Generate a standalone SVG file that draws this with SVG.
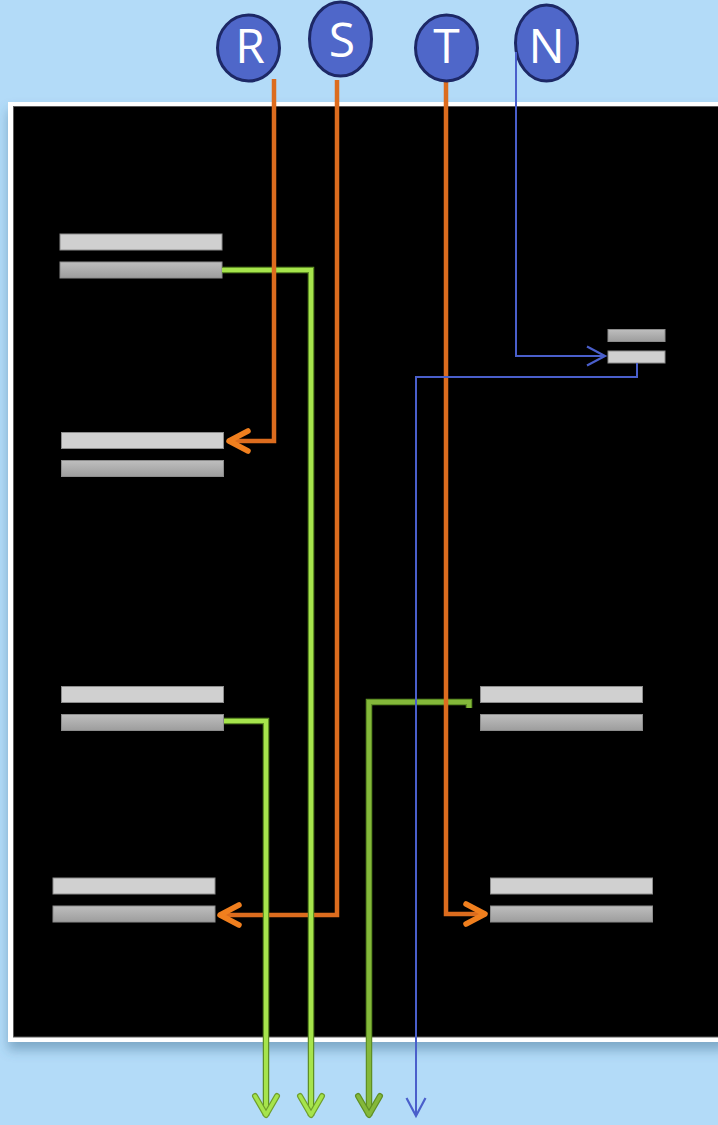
<svg xmlns="http://www.w3.org/2000/svg" width="718" height="1125" viewBox="0 0 718 1125">
  <style>
    .bar-light { fill: #d0d0d0; stroke: #8c8c8c; stroke-width: 1; }
    .bar-dark { fill: url(#barDark); stroke: #8c8c8c; stroke-width: 1; }
    .badge { fill: #4f67c9; stroke: #1d2866; stroke-width: 3; }
    .badge-text { font-family: "Open Sans", "Liberation Sans", sans-serif; font-size: 48px; fill: #ffffff; text-anchor: middle; }
    .orange { fill: none; stroke: #dc6c1e; stroke-width: 4.5; stroke-linejoin: miter; }
    .green-edge { fill: none; stroke: #5f8f24; stroke-width: 6.5; }
    .green { fill: none; stroke: #a6e44c; stroke-width: 4; }
    .green-dark { fill: none; stroke: #84b83a; stroke-width: 4; }
    .blue { fill: none; stroke: #4a5fcb; stroke-width: 2; }
  </style>
  <defs>
    <linearGradient id="barDark" x1="0" y1="0" x2="0" y2="1">
      <stop offset="0" stop-color="#bebebe"/>
      <stop offset="1" stop-color="#9d9d9d"/>
    </linearGradient>
    <filter id="frameShadow" x="-5%" y="-5%" width="110%" height="110%">
      <feDropShadow dx="0" dy="8" stdDeviation="6" flood-color="#3a6a8c" flood-opacity="0.45"/>
    </filter>
    <marker id="arrowOrange" markerUnits="userSpaceOnUse" orient="auto" markerWidth="30" markerHeight="30" refX="0" refY="0" viewBox="-25 -15 30 30" overflow="visible">
      <path d="M-20,-10 L-1,0 L-20,10" fill="none" stroke="#f07f1e" stroke-width="5.5" stroke-linecap="round" stroke-linejoin="round"/>
    </marker>
    <marker id="arrowGreen" markerUnits="userSpaceOnUse" orient="auto" markerWidth="30" markerHeight="30" refX="0" refY="0" viewBox="-25 -15 30 30" overflow="visible">
      <path d="M-20,-11 L-1,0 L-20,11" fill="none" stroke="#6f9e2c" stroke-width="6" stroke-linecap="round" stroke-linejoin="round"/>
      <path d="M-20,-11 L-1,0 L-20,11" fill="none" stroke="#a6e44c" stroke-width="3.5" stroke-linecap="round" stroke-linejoin="round"/>
    </marker>
    <marker id="arrowGreenDark" markerUnits="userSpaceOnUse" orient="auto" markerWidth="30" markerHeight="30" refX="0" refY="0" viewBox="-25 -15 30 30" overflow="visible">
      <path d="M-20,-11 L-1,0 L-20,11" fill="none" stroke="#5f8f24" stroke-width="6" stroke-linecap="round" stroke-linejoin="round"/>
      <path d="M-20,-11 L-1,0 L-20,11" fill="none" stroke="#84b83a" stroke-width="3.5" stroke-linecap="round" stroke-linejoin="round"/>
    </marker>
    <marker id="arrowBlue" markerUnits="userSpaceOnUse" orient="auto" markerWidth="30" markerHeight="30" refX="0" refY="0" viewBox="-25 -15 30 30" overflow="visible">
      <path d="M-18,-9.5 L0,0 L-18,9.5" fill="none" stroke="#4a5fcb" stroke-width="2.2"/>
    </marker>
  </defs>

  <!-- backdrop -->
  <rect x="0" y="0" width="718" height="1125" fill="#b3dbf8"/>

  <!-- framed panel -->
  <rect x="8" y="102" width="720" height="940" fill="#ffffff" filter="url(#frameShadow)"/>
  <rect x="13.5" y="106.5" width="720" height="930.5" fill="#000000" stroke="#5a5a5a" stroke-width="1"/>

  <!-- bar pairs -->
  <g id="node-left-1">
    <rect class="bar-light" x="60" y="234" width="162" height="16"/>
    <rect class="bar-dark" x="60" y="262" width="162" height="16"/>
  </g>
  <g id="node-left-2">
    <rect class="bar-light" x="61.5" y="432.5" width="162" height="16"/>
    <rect class="bar-dark" x="61.5" y="460.5" width="162" height="16"/>
  </g>
  <g id="node-left-3">
    <rect class="bar-light" x="61.5" y="686.5" width="162" height="16"/>
    <rect class="bar-dark" x="61.5" y="714.5" width="162" height="16"/>
  </g>
  <g id="node-left-4">
    <rect class="bar-light" x="53" y="878" width="162" height="16"/>
    <rect class="bar-dark" x="53" y="906" width="162" height="16"/>
  </g>
  <g id="node-right-small">
    <rect class="bar-dark" x="608" y="329.5" width="57" height="12"/>
    <rect class="bar-light" x="608" y="351" width="57" height="12"/>
  </g>
  <g id="node-right-1">
    <rect class="bar-light" x="480.5" y="686.5" width="162" height="16"/>
    <rect class="bar-dark" x="480.5" y="714.5" width="162" height="16"/>
  </g>
  <g id="node-right-2">
    <rect class="bar-light" x="490.5" y="878" width="162" height="16"/>
    <rect class="bar-dark" x="490.5" y="906" width="162" height="16"/>
  </g>

  <!-- connectors -->
  <g id="connectors">
    <!-- S down to lower-left pair -->
    <path class="orange" d="M337,80 V915 H219" marker-end="url(#arrowOrange)"/>
    <!-- outputs leaving the bottom -->
    <path class="green-edge" d="M222,270 H311 V1116"/>
    <path class="green" d="M222,270 H311 V1116" marker-end="url(#arrowGreen)"/>
    <path class="green-edge" d="M224,721 H266 V1116"/>
    <path class="green" d="M224,721 H266 V1116" marker-end="url(#arrowGreen)"/>
    <path class="green-edge" d="M469,708 V702 H369 V1116"/>
    <path class="green-dark" d="M469,708 V702 H369 V1116" marker-end="url(#arrowGreenDark)"/>
    <!-- R into second left pair -->
    <path class="orange" d="M274,79 V441 H228" marker-end="url(#arrowOrange)"/>
    <!-- T into lower-right pair -->
    <path class="orange" d="M446,81 V914 H486" marker-end="url(#arrowOrange)"/>
    <!-- N into the small pair, and on out the bottom -->
    <path class="blue" d="M516,52 V356 H605" marker-end="url(#arrowBlue)"/>
    <path class="blue" d="M637,363 V377 H416 V1116" marker-end="url(#arrowBlue)"/>
  </g>

  <!-- phase badges -->
  <g id="node-R">
    <ellipse class="badge" cx="248.5" cy="48" rx="31" ry="33"/>
    <text class="badge-text" x="250" y="63">R</text>
  </g>
  <g id="node-S">
    <ellipse class="badge" cx="340.5" cy="39" rx="31" ry="37"/>
    <text class="badge-text" x="342" y="57">S</text>
  </g>
  <g id="node-T">
    <ellipse class="badge" cx="446.5" cy="48" rx="31" ry="33"/>
    <text class="badge-text" x="446.5" y="63">T</text>
  </g>
  <g id="node-N">
    <ellipse class="badge" cx="546.5" cy="43" rx="31" ry="38"/>
    <text class="badge-text" x="546.5" y="63">N</text>
  </g>
  <!-- N lead drawn over its badge edge -->
  <path class="blue" d="M516,52 V82"/>
</svg>
